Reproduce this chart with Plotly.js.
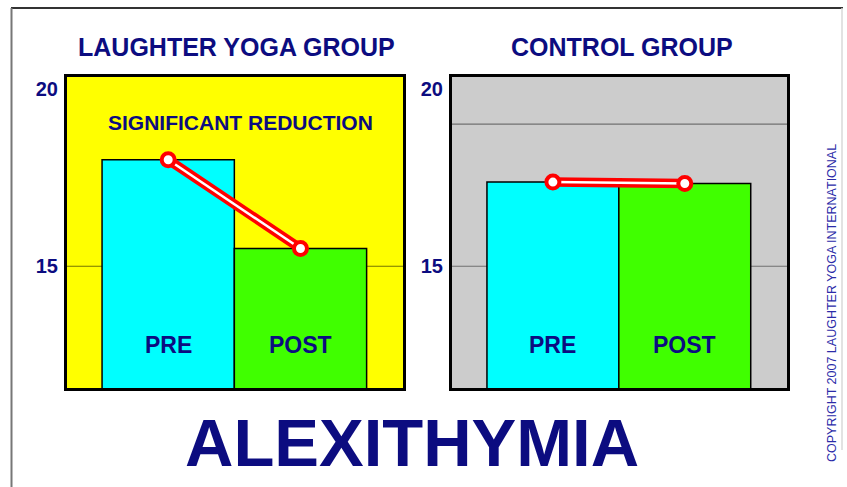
<!DOCTYPE html>
<html>
<head>
<meta charset="utf-8">
<script src="https://cdn.plot.ly/plotly-3.0.1.min.js"></script>
<style>html,body{margin:0;padding:0;background:#fff;}#chart{width:847px;height:487px;}</style>
</head>
<body>
<div id="chart"></div>
<script>
// ---- data ----
const categories = ['PRE', 'POST'];
const yogaValues = [18.0, 15.5];
const controlValues = [17.37, 17.33];
const barColors = ['#00ffff', '#40ff00'];
const panelTitles = ['LAUGHTER YOGA GROUP', 'CONTROL GROUP'];
const tickValues = [15, 20];
const tickLabels = ['15', '20'];
const mainTitle = 'ALEXITHYMIA';
const noteText = 'SIGNIFICANT REDUCTION';
const copyrightText = 'COPYRIGHT 2007 LAUGHTER YOGA INTERNATIONAL';

const W = 847, H = 487;
const NAVY = '#0c0c80';
const FONT = 'Arial, "Liberation Sans", sans-serif';
const px = v => v / W;
const py = v => 1 - v / H;

function barTrace(vals, xa, ya) {
  return {type: 'bar', x: categories, y: vals, xaxis: xa, yaxis: ya,
    width: 1, marker: {color: barColors, line: {color: '#000', width: 1.5}},
    hoverinfo: 'skip', showlegend: false};
}
function lineTraces(vals, xa, ya) {
  return [
    {type: 'scatter', mode: 'lines', x: categories, y: vals, xaxis: xa, yaxis: ya,
      line: {color: '#ff0000', width: 9.5}, hoverinfo: 'skip', showlegend: false},
    {type: 'scatter', mode: 'lines+markers', x: categories, y: vals, xaxis: xa, yaxis: ya,
      line: {color: '#ffffff', width: 2.5},
      marker: {size: 13, color: '#ffffff', line: {color: '#ff0000', width: 4}},
      hoverinfo: 'skip', showlegend: false}
  ];
}

const data = [
  barTrace(yogaValues, 'x', 'y'),
  ...lineTraces(yogaValues, 'x', 'y'),
  barTrace(controlValues, 'x2', 'y2'),
  ...lineTraces(controlValues, 'x2', 'y2')
];

const yRange = [11.57, 20.33];
const xRange = [-0.765, 1.775];
function xAxis(domain) {
  return {domain: domain, range: xRange, type: 'category', showticklabels: false,
    showgrid: false, zeroline: false, showline: true, mirror: true, linecolor: '#000', linewidth: 3, fixedrange: true};
}
function yAxis(domain, anchor) {
  return {domain: domain, anchor: anchor, range: yRange, tickmode: 'array', tickvals: tickValues, ticktext: tickLabels,
    showgrid: false, zeroline: false, showline: true, mirror: true, linecolor: '#000', linewidth: 3,
    ticks: '', ticklabelstandoff: 2,
    tickfont: {family: FONT, size: 20, color: NAVY, weight: 'bold'}, fixedrange: true};
}

const yDom = [py(388), py(77)];
const shapes = [
  // panel backgrounds
  {type: 'rect', xref: 'x domain', yref: 'y domain', x0: 0, x1: 1, y0: 0, y1: 1, fillcolor: '#ffff00', line: {width: 0}, layer: 'below'},
  {type: 'rect', xref: 'x2 domain', yref: 'y2 domain', x0: 0, x1: 1, y0: 0, y1: 1, fillcolor: '#cccccc', line: {width: 0}, layer: 'below'},
  // reference lines
  {type: 'line', xref: 'x domain', yref: 'y', x0: 0, x1: 1, y0: 15, y1: 15, line: {color: 'rgba(0,0,0,0.55)', width: 1.2}, layer: 'below'},
  {type: 'line', xref: 'x2 domain', yref: 'y2', x0: 0, x1: 1, y0: 15, y1: 15, line: {color: 'rgba(0,0,0,0.45)', width: 1.2}, layer: 'below'},
  {type: 'line', xref: 'x2 domain', yref: 'y2', x0: 0, x1: 1, y0: 19, y1: 19, line: {color: 'rgba(0,0,0,0.45)', width: 1.2}, layer: 'below'},
  // outer frame
  {type: 'line', xref: 'paper', yref: 'paper', x0: px(11), x1: px(843), y0: py(8), y1: py(8), line: {color: '#333', width: 2}},
  {type: 'line', xref: 'paper', yref: 'paper', x0: px(11.5), x1: px(11.5), y0: py(8), y1: 0, line: {color: '#777', width: 2}},
  {type: 'line', xref: 'paper', yref: 'paper', x0: px(842), x1: px(842), y0: py(8), y1: py(450), line: {color: '#d8d8d8', width: 1.5}}
];

const annotations = [
  {text: panelTitles[0], xref: 'paper', yref: 'paper', x: px(236), y: py(47), showarrow: false, xanchor: 'center', yanchor: 'middle',
    font: {family: FONT, size: 25, color: NAVY, weight: 'bold'}},
  {text: panelTitles[1], xref: 'paper', yref: 'paper', x: px(622), y: py(47), showarrow: false, xanchor: 'center', yanchor: 'middle',
    font: {family: FONT, size: 25, color: NAVY, weight: 'bold'}},
  {text: noteText, xref: 'paper', yref: 'paper', x: px(240), y: py(122), showarrow: false, xanchor: 'center', yanchor: 'middle',
    font: {family: FONT, size: 21, color: NAVY, weight: 'bold'}},
  {text: mainTitle, xref: 'paper', yref: 'paper', x: px(412), y: py(442), showarrow: false, xanchor: 'center', yanchor: 'middle',
    font: {family: FONT, size: 67, color: NAVY, weight: 'bold'}},
  {text: copyrightText, xref: 'paper', yref: 'paper', x: px(832), y: py(303), showarrow: false, xanchor: 'center', yanchor: 'middle',
    textangle: -90, font: {family: FONT, size: 12.5, color: '#2b2ba8'}}
];
[['x', 'y'], ['x2', 'y2']].forEach(([xa, ya]) => {
  categories.forEach(c => {
    annotations.push({text: c, xref: xa, yref: ya, x: c, y: 12.78, showarrow: false, xanchor: 'center', yanchor: 'middle',
      font: {family: FONT, size: 23, color: NAVY, weight: 'bold'}});
  });
});

const layout = {
  width: W, height: H, margin: {l: 0, r: 0, t: 0, b: 0},
  paper_bgcolor: '#ffffff', plot_bgcolor: 'rgba(0,0,0,0)',
  showlegend: false, barmode: 'overlay', bargap: 0,
  xaxis: xAxis([px(67), px(403)]),
  yaxis: yAxis(yDom, 'x'),
  xaxis2: xAxis([px(452), px(787)]),
  yaxis2: yAxis(yDom, 'x2'),
  shapes: shapes, annotations: annotations
};
layout.xaxis.anchor = 'y';
layout.xaxis2.anchor = 'y2';

Plotly.newPlot('chart', data, layout, {displayModeBar: false, staticPlot: true});
</script>
</body>
</html>
